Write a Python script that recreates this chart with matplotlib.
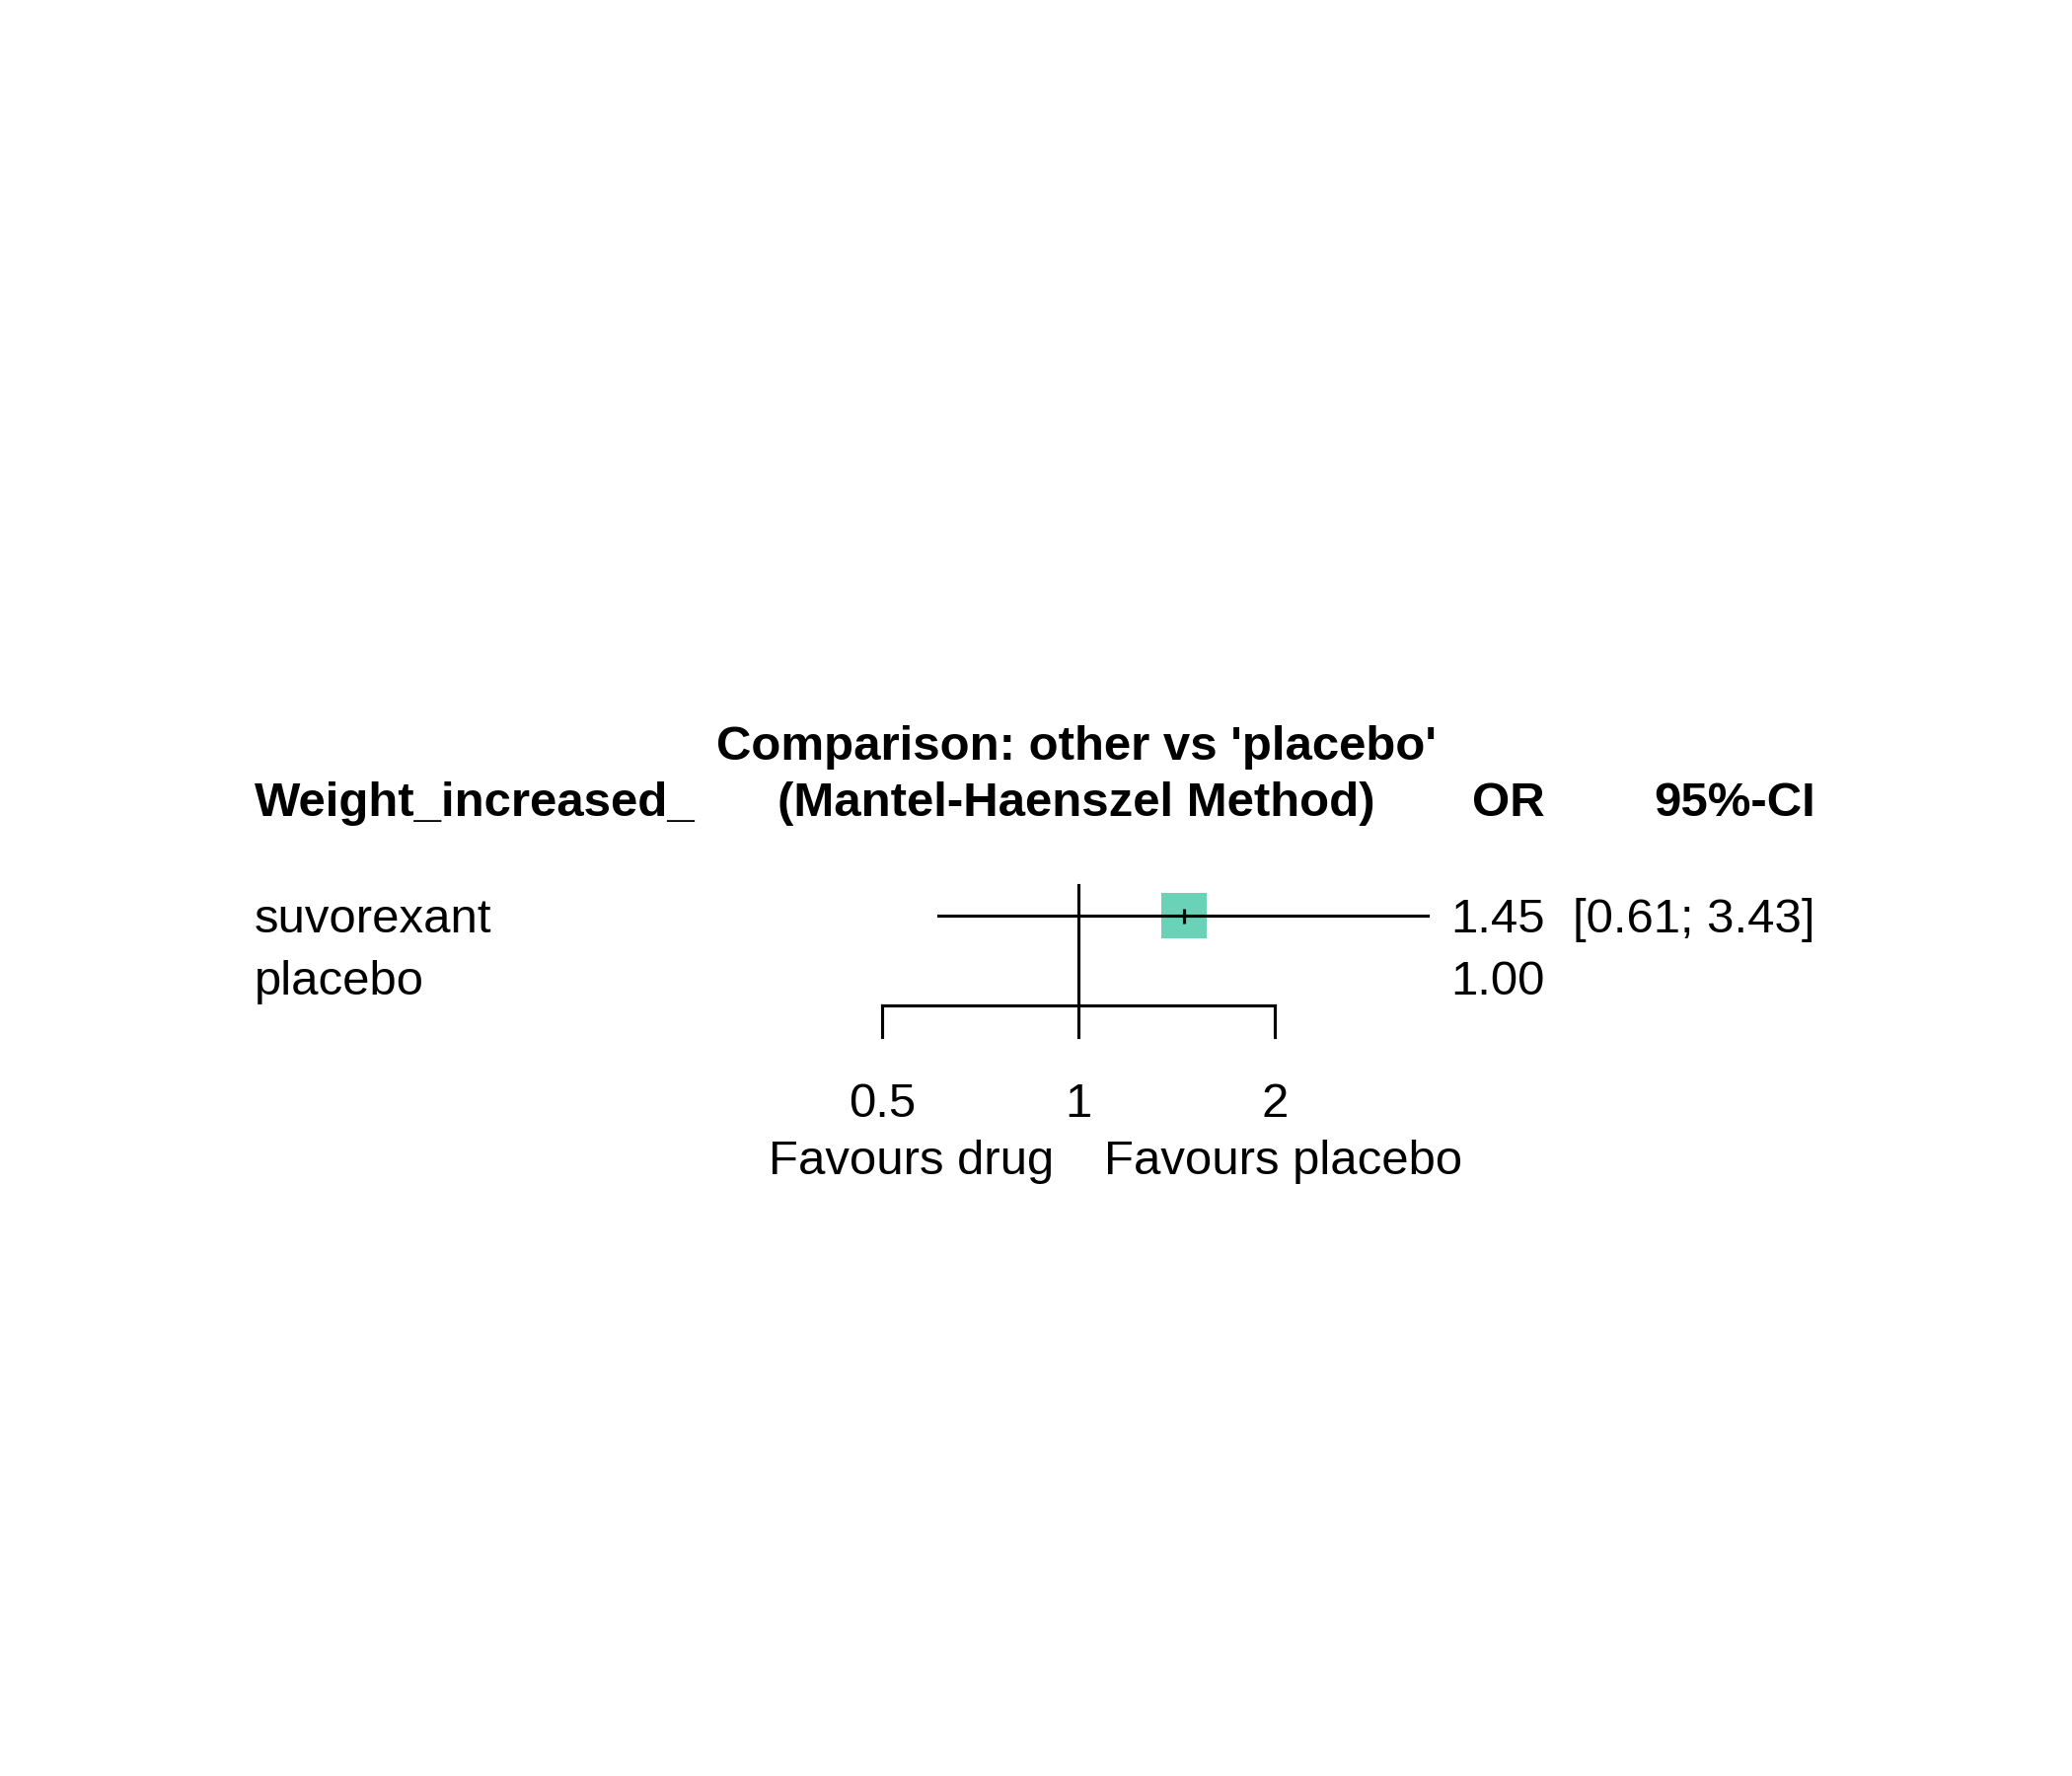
import numpy as np
import matplotlib
matplotlib.use("Agg")
import matplotlib.pyplot as plt

plt.rcParams["font.family"] = ["Liberation Sans", "DejaVu Sans"]

# datos del forest plot
treatments = ["suvorexant", "placebo"]
odds_ratio = [1.45, 1.00]
ci_low = [0.61, None]
ci_high = [3.43, None]
or_labels = ["1.45", "1.00"]
ci_labels = ["[0.61; 3.43]", ""]
ticks = [0.5, 1, 2]
tick_labels = ["0.5", "1", "2"]

W, H = 2100, 1800
fig = plt.figure(figsize=(7, 6), dpi=300)
ax = fig.add_axes([0, 0, 1, 1])
ax.set_xscale("log", base=2)
# 1 -> px 1093, 199 px por duplicacion
ax.set_xlim(2 ** (-1093 / 199), 2 ** ((W - 1093) / 199))
# fila 1 -> px 928, 63 px por fila
ax.set_ylim(1 + (H - 928) / 63, 1 - 928 / 63)
ax.axis("off")

lw = 0.75
sq = "#69D2B7"
rows = np.arange(1, len(treatments) + 1)
dy = 5 / 63  # pequeno ajuste vertical del texto

# linea de referencia
ax.plot([1, 1], [0.51, 2.45], color="black", lw=lw)

for r, est, lo, hi in zip(rows, odds_ratio, ci_low, ci_high):
    if lo is None:
        continue
    ax.plot([est], [r], marker="s", ms=11.2, color=sq, mec="none", zorder=2)
    ax.plot([lo, hi], [r, r], color="black", lw=lw, zorder=3)
    ax.plot([est], [r], marker="|", ms=3.6, mew=lw, color="black", zorder=4)

# eje x
ax.plot([ticks[0], ticks[-1]], [2.45, 2.45], color="black", lw=lw)
for t in ticks:
    ax.plot([t, t], [2.45, 2.96], color="black", lw=lw)

fs = 11.8


def ftxt(x, y, s, **kw):
    fig.text(x / W, 1 - (y + 5) / H, s, fontsize=fs, **kw)


for t, lab in zip(ticks, tick_labels):
    ax.text(t, 3.0 + (1111 - 1051) / 63 + dy, lab, fontsize=fs, ha="center", va="center")

ftxt(924, 1172, "Favours drug", ha="center", va="center")
ftxt(1301, 1172, "Favours placebo", ha="center", va="center")

# encabezados
ftxt(1091, 752, "Comparison: other vs 'placebo'", ha="center", va="center", fontweight="bold")
ftxt(258, 810, "Weight_increased_", ha="left", va="center", fontweight="bold")
ftxt(1091, 810, "(Mantel-Haenszel Method)", ha="center", va="center", fontweight="bold")
ftxt(1566, 810, "OR", ha="right", va="center", fontweight="bold")
ftxt(1840, 810, "95%-CI", ha="right", va="center", fontweight="bold")

tr = ax.get_yaxis_transform()
for r, name, orl, cil in zip(rows, treatments, or_labels, ci_labels):
    ax.text(258 / W, r + dy, name, transform=tr, fontsize=fs, ha="left", va="center")
    ax.text(1566 / W, r + dy, orl, transform=tr, fontsize=fs, ha="right", va="center")
    ax.text(1840 / W, r + dy, cil, transform=tr, fontsize=fs, ha="right", va="center")

fig.savefig("out.png", dpi=300, facecolor="white")
